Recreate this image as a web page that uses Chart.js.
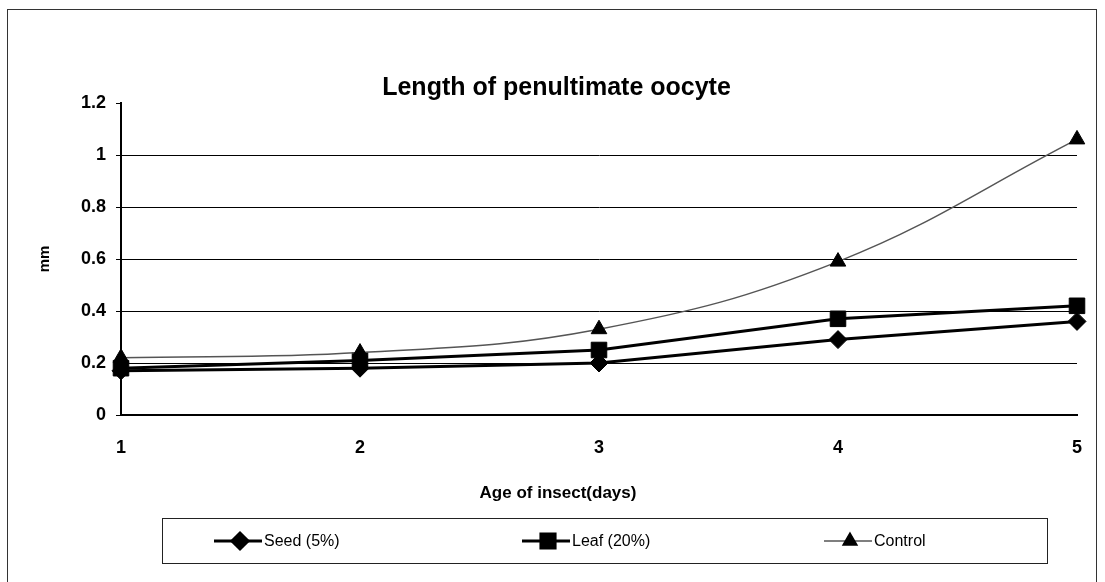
<!DOCTYPE html>
<html>
<head>
<meta charset="utf-8">
<script src="https://cdn.jsdelivr.net/npm/chart.js@4.4.1/dist/chart.umd.min.js"></script>
<style>
body{margin:0;background:#fff;}
#marco{position:absolute;left:7px;top:9px;width:1090px;height:600px;border:1px solid #333;box-sizing:border-box;}
#caja{position:absolute;left:0;top:0;width:1105px;height:582px;}
</style>
</head>
<body>
<div id="marco"></div>
<div id="caja"><canvas id="grafico"></canvas></div>
<script>

const dias = ["1","2","3","4","5"];
const semilla = [0.17, 0.18, 0.20, 0.29, 0.36];
const hoja = [0.18, 0.21, 0.25, 0.37, 0.42];
const control = [0.22, 0.24, 0.33, 0.59, 1.06];
const nombres = ["Seed (5%)", "Leaf (20%)", "Control"];
const tituloX = "Age of insect(days)";

const fuente = "'Liberation Sans', Arial, sans-serif";

// titulo del eje x y leyenda en caja, como en el original
const leyenda = {
id:"leyenda",
afterDraw(chart){
const c = chart.ctx;
c.save();
c.fillStyle = "#000";
c.font = "bold 17px " + fuente;
c.textAlign = "center";
c.textBaseline = "middle";
c.fillText(tituloX, 558, 493);

c.textAlign = "left";
c.strokeStyle = "#222";
c.lineWidth = 1;
c.strokeRect(162.5, 518.5, 885, 45);
const xs = [240, 548, 850];
const y = 541;
chart.data.datasets.forEach((ds, i) => {
const x = xs[i];
c.strokeStyle = ds.borderColor;
c.lineWidth = ds.borderWidth;
c.beginPath();
c.moveTo(x - 26, y);
c.lineTo(x + 22, y);
c.stroke();
c.fillStyle = "#000";
c.strokeStyle = "#000";
Chart.helpers.drawPoint(c, {pointStyle: ds.pointStyle, radius: ds.pointRadius - 1, rotation: 0, borderWidth: 1}, x, y);
c.font = "16px " + fuente;
c.fillText(nombres[i], x + 24, y + 1);
});
c.restore();
}
};

const config = {
type:"line",
data:{
labels:dias,
datasets:[{
label:nombres[0],
data:semilla,
borderColor:"#000",
backgroundColor:"#000",
borderWidth:3,
pointStyle:"rectRot",
pointRadius:9,
pointBorderWidth:1,
order:3
},{
label:nombres[1],
data:hoja,
borderColor:"#000",
backgroundColor:"#000",
borderWidth:3,
pointStyle:"rect",
pointRadius:11,
pointBorderWidth:1,
order:2
},{
label:nombres[2],
data:control,
borderColor:"#555",
backgroundColor:"#000",
pointBorderColor:"#000",
borderWidth:1.5,
pointStyle:"triangle",
pointRadius:9,
pointBorderWidth:1,
tension:0.4,
order:1
}]
},
options:{
responsive:false,
animation:false,
layout:{padding:{left:36, right:28, top:0, bottom:80}},
plugins:{
legend:{display:false},
tooltip:{enabled:false},
title:{
display:true,
text:"Length of penultimate oocyte",
color:"#000",
font:{family:fuente, size:25, weight:"bold"},
padding:{top:73, bottom:0}
}
},
scales:{
x:{
offset:false,
grid:{display:false},
border:{color:"#000", width:2},
ticks:{color:"#000", padding:14, font:{family:fuente, size:18, weight:"bold"}},
afterFit:s => { s.height = 87; }
},
y:{
min:0,
max:1.2,
ticks:{stepSize:0.2, color:"#000", padding:10,
callback:v => Math.round(v*10)/10,
font:{family:fuente, size:18, weight:"bold"}},
grid:{
color:ctx => (ctx.tick && ctx.tick.value > 1.1) ? "rgba(0,0,0,0)" : "#000",
tickColor:"#000",
tickLength:5,
lineWidth:1
},
border:{color:"#000", width:2},
title:{display:true, text:"mm", color:"#000", padding:{top:0, bottom:0},
font:{family:fuente, size:15, weight:"bold"}},
afterFit:s => { s.width = 85; }
}
}
},
plugins:[leyenda]
};

const ctx = document.getElementById("grafico");
ctx.width = 1105;
ctx.height = 582;
new Chart(ctx, config);

</script>
</body>
</html>
